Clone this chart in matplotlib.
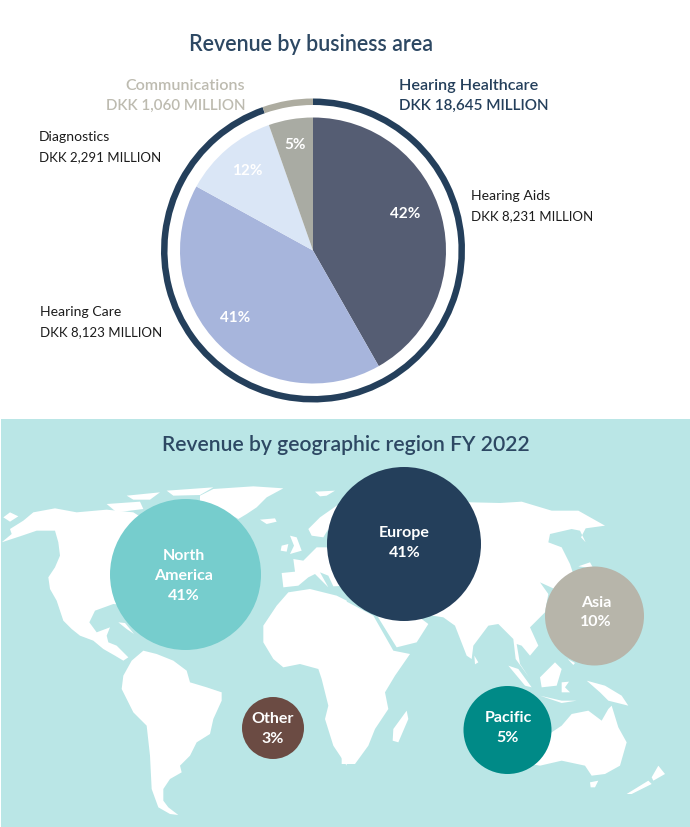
import matplotlib
matplotlib.use("Agg")
import matplotlib.pyplot as plt
from matplotlib.patches import Circle, Polygon, Rectangle

plt.rcParams['font.family'] = ['Lato', 'DejaVu Sans']

# ---------------- DATA ----------------
area_names = ["Hearing Aids", "Hearing Care", "Diagnostics", "Communications"]
area_revenue = [8231, 8123, 2291, 1060]
area_share = ["42%", "41%", "12%", "5%"]
group_names = ["Hearing Healthcare", "Communications"]
group_revenue = [18645, 1060]

region_names = ["North\nAmerica", "Europe", "Asia", "Pacific", "Other"]
region_share = ["41%", "41%", "10%", "5%", "3%"]

# ---------------- STYLE ----------------
NAVY = "#243F5B"
STONE = "#BDBBB0"
INK = "#1C1C1C"
area_colors = ["#555D73", "#A7B5DC", "#DAE6F6", "#A9ABA3"]
group_colors = [NAVY, "#ADACA0"]
region_colors = ["#76CDCD", "#243F5B", "#B7B5AA", "#008A87", "#6B4B43"]

# bubble layout in picture pixels
bubble_x = [185.5, 404, 594.5, 507.5, 273]
bubble_y = [575.5, 545, 617, 731, 729]
bubble_r = [75.5, 77, 49.5, 44, 31]
# bubble text is not quite centred in the reference
label_x = [183.5, 404.5, 596, 508, 273]
label_y = [576, 543, 612.5, 728, 729]

H = 828

def Y(py):
    return H - py

left_crop = [
    # north america
    [(5,190),(35,165),(30,150),(70,125),(100,100),(165,88),(230,100),(320,92),(400,100),(480,150),(500,300),
     (400,380),(340,375),(285,395),(268,430),(290,460),(330,445),(320,470),(325,490),(350,500),(385,535),
     (370,545),(345,530),(310,510),(280,485),(240,470),(215,450),(190,425),(170,365),(150,330),(145,295),
     (165,265),(180,230),(175,190),(165,155),(110,155),(60,172)],
    # south america
    [(365,630),(370,590),(395,545),(430,515),(470,525),(520,545),(560,575),(570,610),(620,625),(665,640),
     (665,665),(640,720),(630,765),(590,790),(570,830),(540,860),(545,880),(510,900),(490,930),(490,965),
     (505,985),(535,1008),(510,1005),(475,985),(455,930),(450,830),(440,740),(400,700)],
    # greenland
    [(640,30),(760,22),(850,28),(800,55),(770,85),(740,105),(715,120),(680,100),(600,90),(600,50)],
    # arctic islands
    [(320,75),(420,68),(430,90),(350,100)],
    [(380,50),(480,40),(450,62),(400,62)],
    [(500,35),(640,25),(600,48),(520,50)],
    # iceland, uk, ireland, svalbard, chukotka tip
    [(780,122),(825,118),(830,128),(800,135)],
    [(870,170),(890,175),(905,215),(870,225),(882,200)],
    [(845,200),(865,195),(860,218),(842,215)],
    [(945,38),(1005,35),(980,50),(960,52)],
    [(10,115),(30,100),(55,112),(30,128)],
    # cuba
    [(355,430),(375,432),(402,465),(380,450)],
    # scandinavia
    [(925,150),(960,115),(1010,80),(1035,70),(1035,200),(990,190),(985,150),(970,175),(935,170)],
    # europe mainland
    [(845,282),(885,278),(880,240),(910,245),(950,205),(990,205),(1040,180),(1040,320),(1000,322),(985,290),
     (960,280),(985,325),(970,310),(945,285),(925,295),(895,320),(850,325)],
    # africa, west side
    [(790,440),(830,380),(865,340),(930,330),(1010,350),(1040,365),(1040,860),(1000,800),(975,720),(985,680),
     (965,600),(955,570),(900,555),(850,565),(820,540),(790,490)],
]

right_crop = [
    # africa, east side
    [(-10,360),(85,410),(145,515),(195,525),(150,590),(120,640),(130,690),(90,750),(70,800),(30,855),(-10,855)],
    # arabia
    [(90,400),(155,505),(215,490),(250,435),(230,420),(200,380)],
    # eurasia
    [(-10,200),(100,60),(380,70),(465,72),(530,68),(620,95),(700,95),(780,140),(722,148),(708,175),(755,225),
     (722,190),(705,155),(680,150),(615,165),(610,190),(650,205),(675,255),(690,300),(640,335),(585,310),
     (610,345),(600,400),(555,445),(580,500),(555,530),(530,500),(515,495),(525,555),(552,595),(512,540),
     (505,480),(460,435),(430,440),(385,500),(380,540),(365,530),(330,440),(295,415),(200,400),(100,300)],
    # sri lanka, madagascar
    [(388,530),(400,550),(390,556)],
    [(185,695),(190,720),(160,790),(143,785),(145,750)],
    # sumatra, borneo, java, sulawesi
    [(490,560),(520,570),(560,625),(540,620)],
    [(585,595),(630,550),(650,570),(635,620),(590,625)],
    [(585,650),(650,665),(695,665),(650,672)],
    [(650,610),(672,608),(660,625),(675,640),(650,640)],
    # philippines, japan
    [(668,540),(690,552),(685,558)],
    [(700,262),(735,250),(745,268)],
    # new guinea
    [(725,605),(780,620),(830,650),(850,680),(790,665),(765,640)],
    # australia
    [(520,780),(620,760),(650,740),(680,705),(730,695),(770,725),(790,690),(800,680),(820,745),(845,790),
     (825,860),(780,885),(740,890),(720,860),(650,845),(585,860),(530,850)],
    # tasmania, new zealand
    [(735,910),(760,905),(750,925),(737,925)],
    [(940,860),(960,885),(925,905),(920,895)],
    [(845,945),(910,905),(920,915),(860,945)],
]

fig = plt.figure(figsize=(6.9, 8.28), dpi=100, facecolor="white")
ax = fig.add_axes([0, 0, 1, 1])

# ---------------- PIE ----------------
ax.pie(group_revenue, colors=group_colors, startangle=90, counterclock=False,
       center=(313, Y(251.5)), radius=152, wedgeprops={"width": 6.5, "linewidth": 0})
ax.pie(area_revenue, colors=area_colors, startangle=90, counterclock=False,
       center=(313, Y(251.5)), radius=133, wedgeprops={"linewidth": 0})

ax.set_xlim(0, 690)
ax.set_ylim(0, H)
ax.set_aspect("equal")
ax.set_axis_off()

ax.text(311, Y(44), "Revenue by business area", fontsize=15.5, fontweight="semibold", color="#2D4863",
        ha="center", va="center")

for (x, py), share in zip([(405, 214), (235, 318), (247, 171), (295, 145)], area_share):
    ax.text(x, Y(py), share, fontsize=11, fontweight="bold", color="white", ha="center", va="center")


def two_line(x, py, name, value, color, ha="left", weight="normal", name_size=10.1, value_size=9.5):
    ax.text(x, Y(py), name, fontsize=name_size, color=color, ha=ha, va="center", fontweight=weight)
    ax.text(x, Y(py + 20), f"DKK {value:,} MILLION", fontsize=value_size, color=color, ha=ha, va="center",
            fontweight=weight)


two_line(471, 196, area_names[0], area_revenue[0], INK)
two_line(40, 312, area_names[1], area_revenue[1], INK)
two_line(39, 137, area_names[2], area_revenue[2], INK)
two_line(245, 86, area_names[3], area_revenue[3], STONE, ha="right", weight="semibold", name_size=11.6, value_size=10.9)
two_line(399, 86, group_names[0], group_revenue[0], NAVY, weight="semibold", name_size=11.6, value_size=11)

# ---------------- MAP ----------------
ax.add_patch(Rectangle((1, 0), 689, Y(420), facecolor="#BAE6E6", edgecolor="none", zorder=3))

for shapes, x0 in ((left_crop, 0), (right_crop, 345)):
    for shape in shapes:
        pts = [(x0 + zx / 3, Y(480 + zy / 3)) for zx, zy in shape]
        ax.add_patch(Polygon(pts, closed=True, facecolor="white", edgecolor="none", zorder=4))

ax.text(345.5, Y(445), "Revenue by geographic region FY 2022", fontsize=15.2, fontweight="semibold", color="#2D4863",
        ha="center", va="center", zorder=6)

for i, name in enumerate(region_names):
    ax.add_patch(Circle((bubble_x[i], Y(bubble_y[i])), bubble_r[i], facecolor=region_colors[i], edgecolor="none", zorder=5))
    ax.text(label_x[i], Y(label_y[i]), f"{name}\n{region_share[i]}", fontsize=11.5, fontweight="bold", color="white",
            ha="center", va="center", linespacing=1.52, zorder=6)

fig.savefig("out.png", dpi=100)
